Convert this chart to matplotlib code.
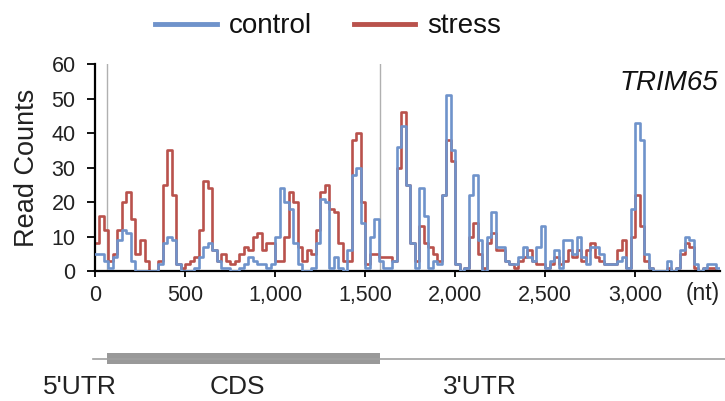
import matplotlib
matplotlib.use("Agg")
import matplotlib.pyplot as plt
import numpy as np

plt.rcParams['font.family'] = ['Liberation Sans', 'DejaVu Sans']

bin_size = 25
control = [5, 5, 3, 1, 4, 9, 12, 11, 3, 0, 0, 0, 0, 0, 2, 8, 10, 9, 2, 0,
           0, 0, 1, 4, 7, 8, 6, 3, 1, 1, 0, 0, 1, 2, 4, 3, 2, 2, 1, 2,
           10, 24, 20, 18, 8, 2, 0, 0, 1, 8, 21, 20, 1, 4, 1, 0, 6, 28, 30, 14,
           1, 10, 15, 3, 1, 1, 3, 36, 42, 25, 8, 1, 24, 16, 1, 3, 2, 22, 51, 35,
           2, 0, 1, 22, 28, 9, 0, 10, 17, 7, 7, 3, 2, 2, 4, 7, 4, 3, 7, 13,
           1, 3, 6, 1, 9, 9, 5, 10, 4, 2, 7, 7, 5, 2, 2, 2, 3, 4, 1, 18,
           43, 38, 5, 1, 0, 0, 0, 3, 0, 1, 6, 10, 9, 2, 0, 1, 2, 2, 1]
stress = [8, 16, 12, 3, 5, 12, 20, 23, 15, 5, 9, 3, 0, 0, 3, 25, 35, 22, 2, 1,
          2, 3, 4, 12, 26, 24, 6, 3, 5, 3, 2, 3, 5, 7, 6, 10, 11, 6, 8, 8,
          3, 3, 10, 23, 20, 7, 3, 6, 5, 12, 23, 25, 18, 17, 8, 3, 3, 38, 40, 20,
          2, 5, 5, 4, 4, 4, 3, 30, 46, 25, 8, 3, 13, 8, 7, 5, 3, 22, 38, 32,
          2, 0, 1, 10, 14, 5, 1, 8, 11, 6, 6, 3, 2, 1, 3, 4, 6, 3, 2, 2,
          1, 2, 4, 2, 3, 6, 4, 6, 3, 6, 8, 4, 3, 2, 2, 2, 6, 9, 1, 10,
          22, 13, 3, 1, 0, 0, 0, 1, 0, 1, 5, 8, 7, 1, 0, 1, 1, 1, 0]

x_ticks = [0, 500, 1000, 1500, 2000, 2500, 3000]
x_tick_labels = ['0', '500', '1,000', '1,500', '2,000', '2,500', '3,000']
y_ticks = [0, 10, 20, 30, 40, 50, 60]

utr5_start = -10
cds_start = 67
cds_end = 1583
transcript_end = 3520

col_control = '#6f93cb'
col_stress = '#b9524c'

fig = plt.figure(figsize=(7.25, 4.01), dpi=100)
ax = fig.add_axes([0.131, 0.324, 0.862, 0.516])

n = len(control)
xs = np.arange(n + 1) * bin_size
ys_c = list(control) + [control[-1]]
ys_s = list(stress) + [stress[-1]]

ax.axvline(cds_start, color='#b0b0b0', lw=1.0, zorder=1)
ax.axvline(cds_end, color='#b0b0b0', lw=1.0, zorder=1)
ax.step(xs, ys_s, where='post', color=col_stress, lw=1.9, label='stress', zorder=2)
ax.step(xs, ys_c, where='post', color=col_control, lw=1.9, label='control', zorder=3)

ax.set_xlim(0, 3470)
ax.set_ylim(0, 60)
ax.set_yticks(y_ticks)
ax.set_xticks(x_ticks)
ax.set_xticklabels(x_tick_labels)
ax.tick_params(axis='y', labelsize=15.5, length=6, width=1.3, pad=8, colors='black')
ax.tick_params(axis='x', labelsize=15.5, length=4, width=1.3, pad=6, colors='black')
for lbl in ax.get_xticklabels() + ax.get_yticklabels():
    lbl.set_color('#222222')
for s in ['top', 'right']:
    ax.spines[s].set_visible(False)
for s in ['left', 'bottom']:
    ax.spines[s].set_linewidth(1.6)
    ax.spines[s].set_color('black')
ax.set_ylabel('Read Counts', fontsize=19.5, color='#222222', labelpad=8)

ax.text(0.997, 0.908, 'TRIM65', transform=ax.transAxes, ha='right', va='center',
        fontsize=20, style='italic', color='#111111')
ax.text(1.0, -0.107, '(nt)', transform=ax.transAxes, ha='right', va='center',
        fontsize=16.5, color='#222222')

handles, labels = ax.get_legend_handles_labels()
order = [1, 0]
leg = fig.legend([handles[i] for i in order], [labels[i] for i in order],
                 loc='center', bbox_to_anchor=(0.453, 0.934), ncol=2, frameon=False,
                 fontsize=20, handlelength=2.2, handletextpad=0.45, columnspacing=1.5)
for lh in leg.get_lines():
    lh.set_linewidth(3.5)
for t in leg.get_texts():
    t.set_color('#111111')

# gene structure
gax = fig.add_axes([0.131, 0.02, 0.862, 0.11])
gax.set_xlim(0, 3470)
gax.set_ylim(-1, 1)
gax.axis('off')
gax.plot([utr5_start, transcript_end], [0.55, 0.55], color='#a0a0a0', lw=1.2, clip_on=False)
gax.fill_between([cds_start, cds_end], 0.3, 0.8, color='#999999', lw=0)
gax.text(-85, -0.72, "5'UTR", ha='center', va='center', fontsize=19, color='#222222')
gax.text(790, -0.72, 'CDS', ha='center', va='center', fontsize=19, color='#222222')
gax.text(2140, -0.72, "3'UTR", ha='center', va='center', fontsize=19, color='#222222')

fig.savefig('out.png', dpi=100)
